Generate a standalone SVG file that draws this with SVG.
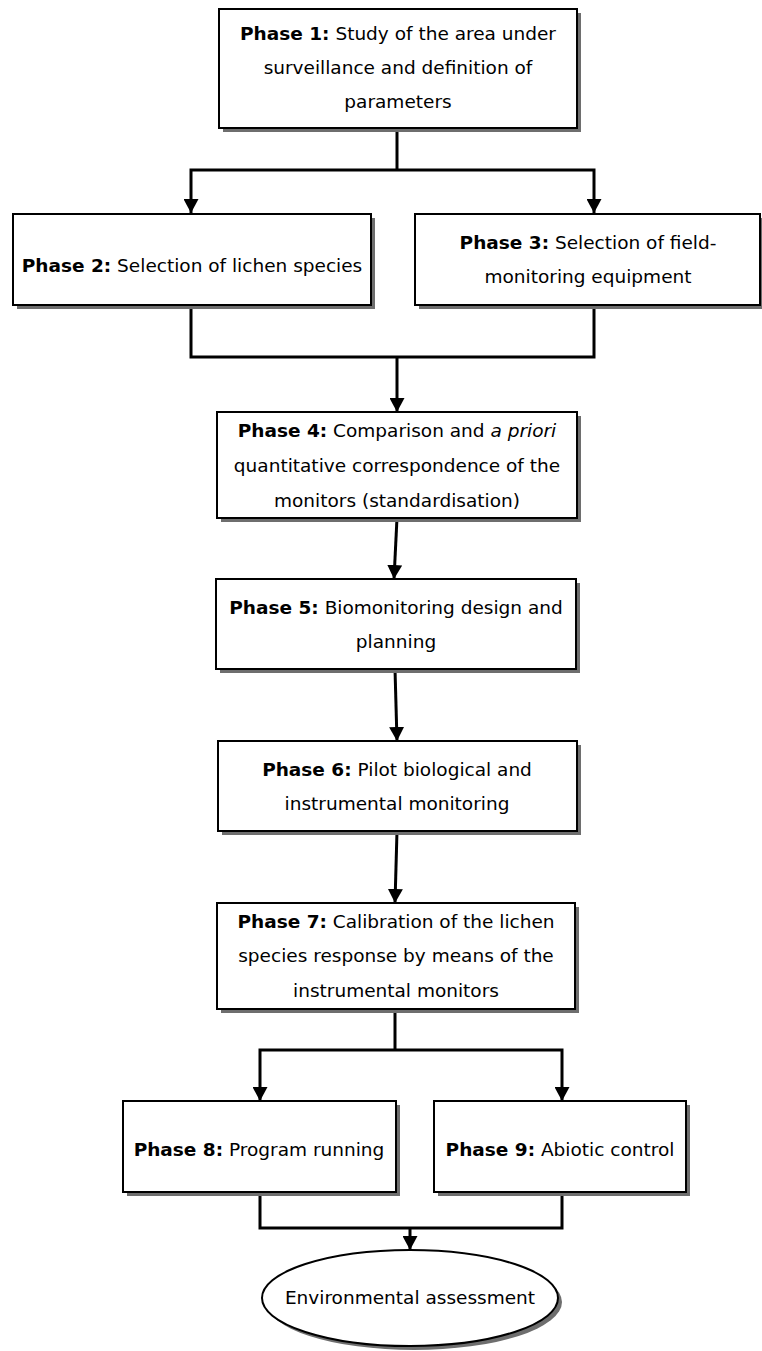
<svg xmlns="http://www.w3.org/2000/svg" width="762" height="1351" viewBox="0 0 762 1351">
<style>
.box{fill:#fff;stroke:#000;stroke-width:2}
.sh{fill:#6e6e6e}
.t{font-family:"DejaVu Sans",sans-serif;font-size:18.5px;fill:#000;text-anchor:middle}
.b{font-weight:bold}
.i{font-style:italic}
.c{fill:none;stroke:#000;stroke-width:3}
</style>
<defs>
<marker id="arr" viewBox="0 0 14 15" refX="14" refY="7.5" markerWidth="14" markerHeight="15" markerUnits="userSpaceOnUse" orient="auto">
<path d="M0,0 L14,7.5 L0,15 z" fill="#000"/>
</marker>
</defs>
<rect width="762" height="1351" fill="#fff"/>

<g id="connectors">
<path class="c" d="M397,128 V170"/>
<path class="c" d="M397,170 H191 V213" marker-end="url(#arr)"/>
<path class="c" d="M397,170 H594 V213" marker-end="url(#arr)"/>
<path class="c" d="M191,305 V357 H594 V305"/>
<path class="c" d="M397,357 V412" marker-end="url(#arr)"/>
<path class="c" d="M397,518 L394,579" marker-end="url(#arr)"/>
<path class="c" d="M395,669 L397,741" marker-end="url(#arr)"/>
<path class="c" d="M397,831 L395,903" marker-end="url(#arr)"/>
<path class="c" d="M395,1009 V1050"/>
<path class="c" d="M395,1050 H260 V1101" marker-end="url(#arr)"/>
<path class="c" d="M395,1050 H562 V1101" marker-end="url(#arr)"/>
<path class="c" d="M260,1192 V1228 H562 V1192"/>
<path class="c" d="M410,1228 V1250" marker-end="url(#arr)"/>
</g>

<g id="phase1">
<rect class="sh" x="223" y="13" width="358" height="119"/>
<rect class="box" x="219" y="9" width="358" height="119"/>
<text class="t" x="398" y="40"><tspan class="b">Phase 1:</tspan> Study of the area under</text>
<text class="t" x="398" y="74">surveillance and definition of</text>
<text class="t" x="398" y="108">parameters</text>
</g>

<g id="phase2">
<rect class="sh" x="17" y="218" width="358" height="91"/>
<rect class="box" x="13" y="214" width="358" height="91"/>
<text class="t" x="192" y="272"><tspan class="b">Phase 2:</tspan> Selection of lichen species</text>
</g>

<g id="phase3">
<rect class="sh" x="419" y="218" width="345" height="91"/>
<rect class="box" x="415" y="214" width="345" height="91"/>
<text class="t" x="588" y="249"><tspan class="b">Phase 3:</tspan> Selection of field-</text>
<text class="t" x="588" y="283">monitoring equipment</text>
</g>

<g id="phase4">
<rect class="sh" x="221" y="416" width="360" height="106"/>
<rect class="box" x="217" y="412" width="360" height="106"/>
<text class="t" x="397" y="437"><tspan class="b">Phase 4:</tspan> Comparison and <tspan class="i">a priori</tspan></text>
<text class="t" x="397" y="472">quantitative correspondence of the</text>
<text class="t" x="397" y="507">monitors (standardisation)</text>
</g>

<g id="phase5">
<rect class="sh" x="220" y="583" width="360" height="90"/>
<rect class="box" x="216" y="579" width="360" height="90"/>
<text class="t" x="396" y="614"><tspan class="b">Phase 5:</tspan> Biomonitoring design and</text>
<text class="t" x="396" y="648">planning</text>
</g>

<g id="phase6">
<rect class="sh" x="222" y="745" width="359" height="90"/>
<rect class="box" x="218" y="741" width="359" height="90"/>
<text class="t" x="397" y="776"><tspan class="b">Phase 6:</tspan> Pilot biological and</text>
<text class="t" x="397" y="810">instrumental monitoring</text>
</g>

<g id="phase7">
<rect class="sh" x="221" y="907" width="358" height="106"/>
<rect class="box" x="217" y="903" width="358" height="106"/>
<text class="t" x="396" y="928"><tspan class="b">Phase 7:</tspan> Calibration of the lichen</text>
<text class="t" x="396" y="962">species response by means of the</text>
<text class="t" x="396" y="997">instrumental monitors</text>
</g>

<g id="phase8">
<rect class="sh" x="127" y="1105" width="273" height="91"/>
<rect class="box" x="123" y="1101" width="273" height="91"/>
<text class="t" x="259" y="1156"><tspan class="b">Phase 8:</tspan> Program running</text>
</g>

<g id="phase9">
<rect class="sh" x="438" y="1105" width="252" height="91"/>
<rect class="box" x="434" y="1101" width="252" height="91"/>
<text class="t" x="560" y="1156"><tspan class="b">Phase 9:</tspan> Abiotic control</text>
</g>

<g id="assessment">
<ellipse class="sh" cx="414" cy="1302" rx="148" ry="48"/>
<ellipse class="box" cx="410" cy="1298" rx="148" ry="48"/>
<text class="t" x="410" y="1304">Environmental assessment</text>
</g>
</svg>
